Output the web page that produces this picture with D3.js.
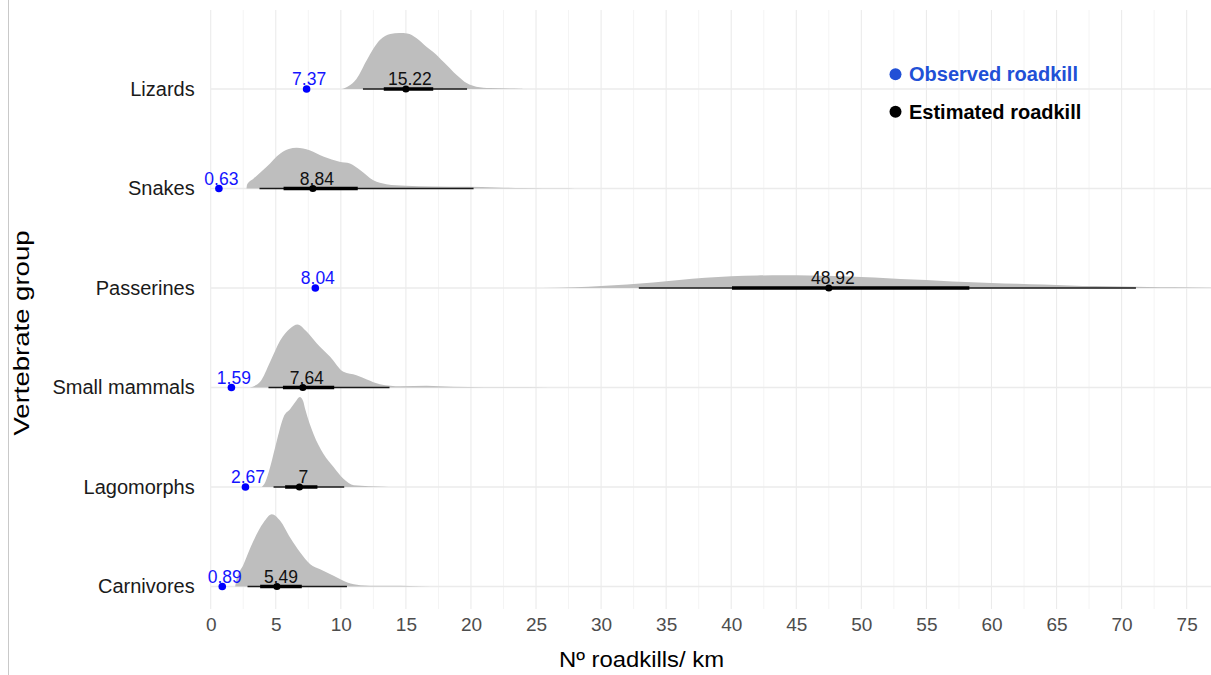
<!DOCTYPE html>
<html>
<meta charset="utf-8">
<title>Roadkill per km by vertebrate group</title>
<script src="https://d3js.org/d3.v7.min.js"></script>
<style>
body { margin: 0; background: #fff; }
text { font-family: "Liberation Sans", Arial, Helvetica, sans-serif; }
.axis path { display: none; }
.axis--x text { fill: #4d4d4d; font-size: 19px; }
.axis--y text { fill: #1a1a1a; font-size: 20px; }
.grid-major { stroke: #ebebeb; stroke-width: 1.1; }
.grid-minor { stroke: #f4f4f4; stroke-width: 1; }
.slab { fill: #bebebe; }
</style>
<body>
<svg width="1211" height="675"></svg>
<script>
// groups, top to bottom
var groups = ["Lizards", "Snakes", "Passerines", "Small mammals", "Lagomorphs", "Carnivores"];

// observed roadkill per km
var observed = [7.37, 0.63, 8.04, 1.59, 2.67, 0.89];
// labels of the estimate (mean)
var estimatedLabel = ["15.22", "8.84", "48.92", "7.64", "7", "5.49"];
// point (median) and intervals
var median   = [15.0, 7.85, 47.5, 7.08, 6.82, 5.09];
var innerLow = [13.3, 5.6, 40.06, 5.55, 5.72, 3.8];
var innerHigh= [17.1, 11.3, 58.3, 9.49, 8.2, 7.0];
var outerLow = [11.7, 3.75, 32.9, 4.44, 4.83, 2.83];
var outerHigh= [19.7, 20.2, 71.1, 13.74, 10.26, 10.47];

// slab densities [x, relative density]
var slabLizards = [[10.1,0],[10.6,0.033],[11.2,0.111],[12.0,0.322],[13.0,0.544],[13.8,0.611],[14.5,0.622],[15.1,0.617],[15.8,0.567],[16.6,0.467],[17.1,0.411],[17.9,0.3],[18.9,0.156],[19.7,0.063],[20.4,0.026],[21.5,0.011],[23.8,0.003],[24,0]];
var slabSnakes = [[2.75,0],[2.8,0.044],[3.3,0.111],[4.3,0.241],[5.35,0.389],[6.0,0.439],[6.6,0.452],[7.6,0.426],[8.7,0.352],[9.9,0.297],[10.7,0.278],[11.5,0.203],[12.5,0.092],[13.5,0.048],[15,0.03],[17,0.022],[19.7,0.019],[22,0.011],[24,0.006],[27,0.002],[28,0]];
var slabPasserines = [[25.5,0],[28,0.009],[30,0.022],[32,0.039],[34,0.061],[36,0.089],[38,0.113],[40,0.131],[42,0.139],[44,0.142],[46,0.139],[48,0.133],[50,0.122],[52,0.109],[54,0.094],[56,0.081],[58,0.067],[60,0.056],[62,0.047],[64,0.038],[66,0.029],[68,0.021],[70,0.016],[72,0.011],[74,0.007],[77,0.003]];
var slabSmallMammals = [[3.0,0],[3.8,0.063],[4.57,0.286],[5.34,0.522],[6.1,0.656],[6.67,0.7],[7.39,0.619],[8.16,0.489],[9.18,0.341],[10.2,0.174],[11.2,0.137],[12.0,0.089],[13.0,0.037],[14.6,0.014],[16.6,0.019],[18.6,0.008],[21,0.004],[26,0]];
var slabLagomorphs = [[3.93,0],[4.2,0.056],[4.57,0.222],[5.09,0.519],[5.6,0.778],[6.11,0.867],[6.5,0.944],[6.85,1.0],[7.1,0.956],[7.26,0.867],[7.9,0.589],[8.67,0.367],[9.44,0.222],[10.2,0.092],[11.0,0.019],[13.3,0.003],[14,0]];
var slabCarnivores = [[1.88,0],[1.95,0.056],[2.52,0.244],[3.29,0.508],[4.06,0.711],[4.7,0.803],[5.34,0.73],[6.1,0.544],[6.88,0.378],[7.65,0.248],[8.41,0.192],[9.44,0.119],[10.5,0.044],[11.5,0.014],[13,0.007],[14.6,0.008],[16,0.004],[17.7,0]];
var slabs = [slabLizards, slabSnakes, slabPasserines, slabSmallMammals, slabLagomorphs, slabCarnivores];

var xTicks = [0,5,10,15,20,25,30,35,40,45,50,55,60,65,70,75];
var xMinor = [2.5,7.5,12.5,17.5,22.5,27.5,32.5,37.5,42.5,47.5,52.5,57.5,62.5,67.5,72.5];

var svg = d3.select("svg"),
    panel = { left: 210.7, right: 1212.7, top: 10, bottom: 609 };

var x = d3.scaleLinear().domain([0, 77]).range([panel.left, panel.right]);
var y = d3.scalePoint().domain(groups).range([89, 586.5]);
var h = d3.scaleLinear().domain([0, 1]).range([0, 90]);

svg.append("rect").attr("width", 1211).attr("height", 675).attr("fill", "#fff");

// left border line
svg.append("line")
  .attr("x1", 8.5).attr("x2", 8.5).attr("y1", 0).attr("y2", 675)
  .attr("stroke", "#c9c9c9").attr("stroke-width", 1);

// grid
var grid = svg.append("g");
grid.selectAll(".grid-minor")
  .data(xMinor)
  .enter().append("line")
  .attr("class", "grid-minor")
  .attr("x1", function(d){ return x(d); }).attr("x2", function(d){ return x(d); })
  .attr("y1", panel.top).attr("y2", panel.bottom);
grid.selectAll(".grid-major.v")
  .data(xTicks)
  .enter().append("line")
  .attr("class", "grid-major v")
  .attr("x1", function(d){ return x(d); }).attr("x2", function(d){ return x(d); })
  .attr("y1", panel.top).attr("y2", panel.bottom);
grid.selectAll(".grid-major.h")
  .data(groups)
  .enter().append("line")
  .attr("class", "grid-major h")
  .attr("x1", panel.left).attr("x2", panel.right)
  .attr("y1", function(d){ return y(d); }).attr("y2", function(d){ return y(d); })
  .style("stroke-width", 1.4);

// slabs
var g = svg.append("g");
groups.forEach(function(grp, i) {
  var area = d3.area()
    .curve(d3.curveMonotoneX)
    .x(function(d){ return x(d[0]); })
    .y0(y(grp))
    .y1(function(d){ return y(grp) - h(d[1]); });
  g.append("path")
    .attr("class", "slab")
    .attr("d", area(slabs[i]));
});

// intervals
var iv = svg.append("g");
iv.selectAll(".outer")
  .data(groups)
  .enter().append("line")
  .attr("x1", function(d, i){ return x(outerLow[i]); })
  .attr("x2", function(d, i){ return x(outerHigh[i]); })
  .attr("y1", function(d){ return y(d); }).attr("y2", function(d){ return y(d); })
  .attr("stroke", "#1a1a1a").attr("stroke-width", 1.6);
iv.selectAll(".inner")
  .data(groups)
  .enter().append("line")
  .attr("x1", function(d, i){ return x(innerLow[i]); })
  .attr("x2", function(d, i){ return x(innerHigh[i]); })
  .attr("y1", function(d){ return y(d); }).attr("y2", function(d){ return y(d); })
  .attr("stroke", "#000").attr("stroke-width", 3.6);
iv.selectAll(".est")
  .data(groups)
  .enter().append("circle")
  .attr("cx", function(d, i){ return x(median[i]); })
  .attr("cy", function(d){ return y(d); })
  .attr("r", 3.6)
  .attr("fill", "#000");
iv.selectAll(".est-label")
  .data(groups)
  .enter().append("text")
  .attr("x", function(d, i){ return x(median[i]) + 4; })
  .attr("y", function(d){ return y(d) - 4; })
  .attr("text-anchor", "middle")
  .attr("font-size", "17.5px")
  .attr("fill", "#111")
  .text(function(d, i){ return estimatedLabel[i]; });

// observed
iv.selectAll(".obs")
  .data(groups)
  .enter().append("circle")
  .attr("cx", function(d, i){ return x(observed[i]); })
  .attr("cy", function(d){ return y(d); })
  .attr("r", 3.8)
  .attr("fill", "#0000ff");
iv.selectAll(".obs-label")
  .data(groups)
  .enter().append("text")
  .attr("x", function(d, i){ return x(observed[i]) + 2.5; })
  .attr("y", function(d){ return y(d) - 4; })
  .attr("text-anchor", "middle")
  .attr("font-size", "17.5px")
  .attr("fill", "#1414ff")
  .text(function(d, i){ return observed[i]; });

// axes
svg.append("g")
  .attr("class", "axis axis--x")
  .attr("transform", "translate(0," + panel.bottom + ")")
  .call(d3.axisBottom(x).tickValues(xTicks).tickSize(0).tickPadding(9));

svg.append("g")
  .attr("class", "axis axis--y")
  .attr("transform", "translate(" + panel.left + ",0)")
  .call(d3.axisLeft(y).tickSize(0).tickPadding(16));

svg.selectAll(".axis text").attr("font-family", null);

svg.append("text")
  .attr("x", 641.5).attr("y", 667)
  .attr("text-anchor", "middle")
  .attr("font-size", "22px")
  .attr("textLength", 165).attr("lengthAdjust", "spacingAndGlyphs")
  .attr("fill", "#000")
  .text("Nº roadkills/ km");

svg.append("text")
  .attr("transform", "translate(29,333) rotate(-90)")
  .attr("text-anchor", "middle")
  .attr("font-size", "22px")
  .attr("textLength", 205).attr("lengthAdjust", "spacingAndGlyphs")
  .attr("fill", "#000")
  .text("Vertebrate group");

// legend
var legend = svg.append("g");
var legendItems = ["Observed roadkill", "Estimated roadkill"];
var legendColors = ["#2150d6", "#000"];
legend.selectAll("circle")
  .data(legendItems)
  .enter().append("circle")
  .attr("cx", 895.5)
  .attr("cy", function(d, i){ return 74.3 + i * 37.5; })
  .attr("r", 6)
  .attr("fill", function(d, i){ return legendColors[i]; });
legend.selectAll("text")
  .data(legendItems)
  .enter().append("text")
  .attr("x", 909)
  .attr("y", function(d, i){ return 74.3 + i * 37.5 + 7; })
  .attr("font-size", "20px")
  .attr("font-weight", "bold")
  .attr("fill", function(d, i){ return legendColors[i]; })
  .text(function(d){ return d; });
</script>
</body>
</html>
